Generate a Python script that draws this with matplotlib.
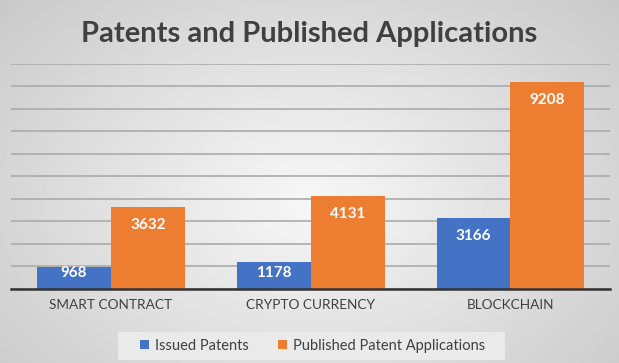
import numpy as np
import matplotlib.pyplot as plt
from matplotlib.patches import Rectangle

categories = ["SMART CONTRACT", "CRYPTO CURRENCY", "BLOCKCHAIN"]
issued = [968, 1178, 3166]
published = [3632, 4131, 9208]
series_names = ["Issued Patents", "Published Patent Applications"]

BLUE = "#4472C4"
ORANGE = "#ED7D31"
TEXT = "#404040"

plt.rcParams["font.family"] = ["Lato", "DejaVu Sans"]

fig = plt.figure(figsize=(6.19, 3.63), dpi=100)

# radial grey background
bg = fig.add_axes([0, 0, 1, 1], zorder=-10)
yy, xx = np.mgrid[0:1:200j, 0:1:340j]
r = np.sqrt(((xx - 0.5) / 0.75) ** 2 + ((yy - 0.55) / 0.9) ** 2)
bg.imshow(0.97 - 0.2 * r, cmap="gray", vmin=0, vmax=1, aspect="auto", extent=[0, 1, 0, 1])
bg.axis("off")

ax = fig.add_axes([0.018, 0.204, 0.968, 0.62])
ax.patch.set_alpha(0)

x = np.arange(len(categories))
w = 0.37
b1 = ax.bar(x - w / 2, issued, w, color=BLUE, label=series_names[0], zorder=3)
b2 = ax.bar(x + w / 2, published, w, color=ORANGE, label=series_names[1], zorder=3)

# labels inside the bar end, kept above the baseline for short bars
for bars in (b1, b2):
    for rect in bars:
        h = rect.get_height()
        ax.text(rect.get_x() + rect.get_width() / 2, max(h - 800, 710), f"{h:d}",
                ha="center", va="center", color="white", fontsize=11,
                fontweight="bold", zorder=4)

ax.set_xlim(-0.5, 2.5)
ax.set_ylim(0, 10000)
ax.set_yticks(np.arange(0, 10001, 1000))
ax.yaxis.grid(True, color="#ababab", linewidth=1.2, zorder=0)
ax.tick_params(left=False, labelleft=False, bottom=False)
ax.set_xticks(x)
ax.set_xticklabels(categories, fontsize=9.8, color=TEXT)
for s in ("left", "right", "top"):
    ax.spines[s].set_visible(False)
ax.spines["bottom"].set_color("#333333")
ax.spines["bottom"].set_linewidth(1.8)
ax.spines["bottom"].set_zorder(5)

fig.text(0.5, 0.905, "Patents and Published Applications", ha="center", va="center",
         fontsize=21, fontweight="bold", color=TEXT)

# legend box drawn separately so it can be wider than the entries
fig.patches.append(Rectangle((118 / 619, 3 / 363), 387 / 619, 28 / 363,
                             transform=fig.transFigure, facecolor="#eaeaea",
                             edgecolor="none", zorder=1))
leg = fig.legend(loc="center", bbox_to_anchor=(0.505, 0.047), ncol=2, frameon=False,
                 fontsize=10.5, handlelength=0.6, handleheight=0.6, handletextpad=0.4,
                 columnspacing=2.0)
for t in leg.get_texts():
    t.set_color(TEXT)

fig.savefig("out.png", dpi=100)
